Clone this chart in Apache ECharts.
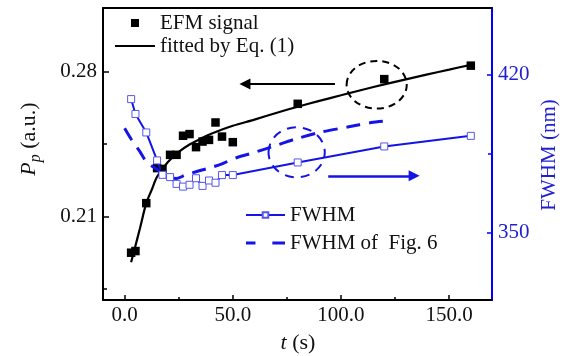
<!DOCTYPE html>
<html>
<head>
<meta charset="utf-8">
<script src="https://cdn.jsdelivr.net/npm/echarts@6/dist/echarts.min.js"></script>
<style>
  html, body { margin: 0; padding: 0; background: #fff; }
  #chart { width: 569px; height: 356px; }
</style>
</head>
<body>
<div id="chart"></div>
<script>
// Measurement times (s)
const timeS = [3, 5, 10, 15, 17.5, 21, 24, 27, 30, 33, 36, 39, 42, 45, 50, 80, 120, 160];
// EFM signal P_p (a.u.)
const efmSignal = [0.1926, 0.1934, 0.2165, 0.2334, 0.2330, 0.2398, 0.2398, 0.2490, 0.2498,
                   0.2435, 0.2462, 0.2470, 0.2554, 0.2486, 0.2459, 0.2644, 0.2763, 0.2828];
// FWHM (nm) at the same times
const fwhmNm = [409.2, 402.6, 394.4, 382.0, 375.6, 374.6, 371.6, 370.4, 371.2,
                374.1, 370.7, 373.1, 372.1, 375.5, 375.5, 381.1, 388.2, 392.9];

// Curve fitted by Eq. (1)
const fitTime = [3, 4, 5, 7, 10, 12.5, 15, 20, 25, 30, 35, 40, 50, 60, 70, 80, 90, 100, 110, 120, 130, 140, 150, 160];
const fitValue = [0.1880, 0.1920, 0.1960, 0.2040, 0.2165, 0.2229, 0.2292, 0.2363, 0.2412, 0.2448, 0.2475, 0.2500,
                  0.2538, 0.2568, 0.2600, 0.2630, 0.2658, 0.2685, 0.2712, 0.2738, 0.2762, 0.2786, 0.2809, 0.2832];

// FWHM of Fig. 6
const fig6Time = [0, 3, 7, 10, 15, 20, 24, 28, 33, 39, 45, 51, 58, 68, 79, 90, 103, 114, 120];
const fig6Fwhm = [396.3, 391.5, 386.0, 381.5, 378.0, 374.5, 374.0, 375.5, 377.0, 378.6, 380.5, 383.0,
                  385.0, 388.0, 391.5, 394.4, 396.8, 398.8, 399.4];

// Axis ticks
const xMajorTicks = [0, 50, 100, 150];
const xMinorTicks = [25, 75, 125];
const ppMajorTicks = [0.21, 0.28];
const ppMinorTicks = [0.175, 0.245];
const fwhmMajorTicks = [350, 420];
const fwhmMinorTicks = [385];

// Annotation anchors (data units)
const ppArrow = { from: [97.2, 0.2739], to: [55.6, 0.2739] };
const fwhmArrow = { from: [94.1, 375.2], to: [133.8, 375.2] };
const ppRing = { center: [116.5, 0.2736], rt: 13.9, rv: 0.0115 };
const fwhmRing = { center: [79.5, 385.6], rt: 13.0, rv: 11.1 };

const FONT = 'Liberation Serif';
const BLUE = '#1414e6';
const AXIS_BLUE = '#0000ff';
const X_RANGE = [-10.0, 169.8];
const PP_RANGE = [0.1698, 0.3106];
const FWHM_RANGE = [320.1, 449.6];

// Legend glyphs
const ICON_SQUARE = 'path://M0,0L8,0L8,8L0,8Z';
const ICON_SOLID = 'path://M0,0L40,0L40,2.2L0,2.2Z';
const ICON_DASHED = 'path://M0,0L9,0L9,3L0,3Z M25,0L37,0L37,3L25,3Z';

const zip = (a, b) => a.map((v, i) => [v, b[i]]);

const chart = echarts.init(document.getElementById('chart'), null, { renderer: 'canvas' });

const labelStyle = { fontFamily: FONT, fontSize: 21, color: '#111' };

function valueAxis(extra) {
  return Object.assign({
    type: 'value',
    splitLine: { show: false },
    axisLine: { show: false, onZero: false },
    axisTick: { show: false },
    axisLabel: { show: false }
  }, extra);
}

const option = {
  animation: false,
  backgroundColor: '#fff',
  grid: { left: 103, right: 77, top: 8, bottom: 56, containLabel: false },
  xAxis: [
    valueAxis({
      position: 'bottom', min: X_RANGE[0], max: X_RANGE[1],
      axisLine: { show: true, onZero: false, lineStyle: { color: '#000', width: 2 } },
      axisTick: { show: true, inside: true, length: 5, customValues: xMajorTicks, lineStyle: { color: '#000', width: 1.5 } },
      axisLabel: { show: true, customValues: xMajorTicks, margin: 5, formatter: v => v.toFixed(1), ...labelStyle }
    }),
    valueAxis({
      position: 'bottom', min: X_RANGE[0], max: X_RANGE[1],
      axisTick: { show: true, inside: true, length: 3, customValues: xMinorTicks, lineStyle: { color: '#000', width: 1.5 } }
    }),
    valueAxis({
      position: 'top', min: X_RANGE[0], max: X_RANGE[1],
      axisLine: { show: true, onZero: false, lineStyle: { color: '#000', width: 2 } }
    })
  ],
  yAxis: [
    valueAxis({
      position: 'left', min: PP_RANGE[0], max: PP_RANGE[1],
      axisLine: { show: true, onZero: false, lineStyle: { color: '#000', width: 2 } },
      axisTick: { show: true, inside: true, length: 6, customValues: ppMajorTicks, lineStyle: { color: '#000', width: 1.5 } },
      axisLabel: { show: true, customValues: ppMajorTicks, margin: 6, formatter: v => v.toFixed(2), ...labelStyle }
    }),
    valueAxis({
      position: 'left', min: PP_RANGE[0], max: PP_RANGE[1],
      axisTick: { show: true, inside: true, length: 4, customValues: ppMinorTicks, lineStyle: { color: '#000', width: 1.5 } }
    }),
    valueAxis({
      position: 'right', min: FWHM_RANGE[0], max: FWHM_RANGE[1],
      axisLine: { show: true, onZero: false, lineStyle: { color: AXIS_BLUE, width: 2 } },
      axisTick: { show: true, inside: true, length: 5, customValues: fwhmMajorTicks, lineStyle: { color: AXIS_BLUE, width: 1.5 } },
      axisLabel: { show: true, customValues: fwhmMajorTicks, margin: 6, formatter: v => String(v), ...labelStyle, color: '#2020d0' }
    }),
    valueAxis({
      position: 'right', min: FWHM_RANGE[0], max: FWHM_RANGE[1],
      axisTick: { show: true, inside: true, length: 4, customValues: fwhmMinorTicks, lineStyle: { color: AXIS_BLUE, width: 1.5 } }
    })
  ],
  legend: [
    {
      left: 110, top: 6.5, orient: 'vertical', itemWidth: 40, itemHeight: 8, itemGap: 0,
      textStyle: { fontFamily: FONT, fontSize: 21, color: '#111', lineHeight: 23 },
      data: [
        { name: 'EFM signal', icon: ICON_SQUARE },
        { name: 'fitted by Eq. (1)', icon: ICON_SOLID }
      ]
    },
    {
      left: 240, top: 198.5, orient: 'vertical', itemWidth: 39, itemHeight: 7, itemGap: 5,
      textStyle: { fontFamily: FONT, fontSize: 21, color: '#111', lineHeight: 23 },
      data: [
        { name: 'FWHM' },
        { name: 'FWHM of  Fig. 6', icon: ICON_DASHED }
      ]
    }
  ],
  series: [
    {
      name: 'FWHM of  Fig. 6', type: 'line', xAxisIndex: 0, yAxisIndex: 2,
      data: zip(fig6Time, fig6Fwhm), smooth: 0.3, symbol: 'none',
      lineStyle: { color: BLUE, width: 3, type: [14, 9] }, itemStyle: { color: BLUE },
      markLine: {
        silent: true, symbol: ['none', 'triangle'], symbolSize: 11,
        label: { show: false }, lineStyle: { color: BLUE, width: 2.5, type: 'solid' },
        data: [[{ coord: fwhmArrow.from }, { coord: fwhmArrow.to }]]
      }
    },
    {
      name: 'FWHM', type: 'line', xAxisIndex: 0, yAxisIndex: 2,
      data: zip(timeS, fwhmNm), symbol: 'rect', symbolSize: 7, showSymbol: true,
      lineStyle: { color: BLUE, width: 2 },
      itemStyle: { color: '#fff', borderColor: '#5656ee', borderWidth: 1 }
    },
    {
      name: 'fitted by Eq. (1)', type: 'line', xAxisIndex: 0, yAxisIndex: 0,
      data: zip(fitTime, fitValue), smooth: 0.3, symbol: 'none',
      lineStyle: { color: '#000', width: 2.2 }, itemStyle: { color: '#000' },
      markLine: {
        silent: true, symbol: ['none', 'triangle'], symbolSize: 11,
        label: { show: false }, lineStyle: { color: '#000', width: 2, type: 'solid' },
        data: [[{ coord: ppArrow.from }, { coord: ppArrow.to }]]
      }
    },
    {
      name: 'EFM signal', type: 'scatter', xAxisIndex: 0, yAxisIndex: 0,
      data: zip(timeS, efmSignal), symbol: 'rect', symbolSize: 8.5,
      itemStyle: { color: '#000', opacity: 1 }
    }
  ]
};

chart.setOption(option);

// Dashed rings and axis titles, placed from data coordinates
function ring(anchor, yAxisIndex, color, dash) {
  const c = chart.convertToPixel({ xAxisIndex: 0, yAxisIndex }, anchor.center);
  const e = chart.convertToPixel({ xAxisIndex: 0, yAxisIndex },
    [anchor.center[0] + anchor.rt, anchor.center[1] + anchor.rv]);
  return {
    type: 'ellipse', silent: true, z: 100,
    shape: { cx: c[0], cy: c[1], rx: Math.abs(e[0] - c[0]), ry: Math.abs(e[1] - c[1]) },
    style: { fill: 'none', stroke: color, lineWidth: 2, lineDash: dash }
  };
}

chart.setOption({
  graphic: [
    ring(ppRing, 0, '#000', [7, 5]),
    ring(fwhmRing, 2, BLUE, [9, 7]),
    {
      type: 'text', x: 29, y: 139, rotation: Math.PI / 2, silent: true,
      style: {
        text: '{i|P}{s|p}{n| (a.u.)}', align: 'center', verticalAlign: 'middle',
        rich: {
          i: { fontFamily: FONT, fontSize: 22, fontStyle: 'italic', fill: '#111', lineHeight: 30, verticalAlign: 'middle' },
          s: { fontFamily: FONT, fontSize: 16, fontStyle: 'italic', fill: '#111', lineHeight: 30, verticalAlign: 'bottom' },
          n: { fontFamily: FONT, fontSize: 22, fill: '#111', lineHeight: 30, verticalAlign: 'middle' }
        }
      }
    },
    {
      type: 'text', x: 549, y: 155, rotation: Math.PI / 2, silent: true,
      style: { text: 'FWHM (nm)', fontFamily: FONT, fontSize: 21, fill: '#2020d0', align: 'center', verticalAlign: 'middle' }
    },
    {
      type: 'text', x: 298, y: 343, silent: true,
      style: {
        text: '{i|t}{n| (s)}', align: 'center', verticalAlign: 'middle',
        rich: {
          i: { fontFamily: FONT, fontSize: 22, fontStyle: 'italic', fill: '#111' },
          n: { fontFamily: FONT, fontSize: 22, fill: '#111' }
        }
      }
    }
  ]
});
</script>
</body>
</html>
